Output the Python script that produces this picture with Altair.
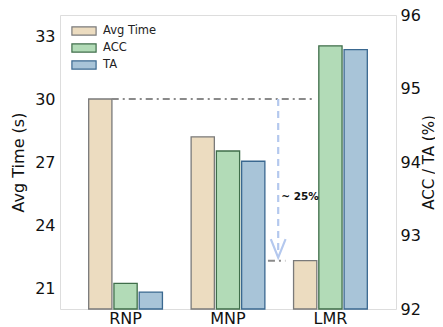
import altair as alt
import pandas as pd

methods = ["RNP", "MNP", "LMR"]
series = ["Avg Time", "ACC", "TA"]
avg_time = [30.0, 28.2, 22.3]
acc = [92.35, 94.15, 95.58]
ta = [92.23, 94.01, 95.53]

left_ticks = [21, 24, 27, 30, 33]
right_ticks = [92, 93, 94, 95, 96]

fills = ["#ecdcc0", "#b2dbb7", "#a8c4d8"]
strokes = ["#7a7a7a", "#3f6e4a", "#3a6890"]

rows = []
for i, m in enumerate(methods):
    rows.append({"method": m, "series": "Avg Time", "value": avg_time[i]})
    rows.append({"method": m, "series": "ACC", "value": acc[i]})
    rows.append({"method": m, "series": "TA", "value": ta[i]})
df = pd.DataFrame(rows)

FONT = "DejaVu Sans"
FS = 16

x_scale = alt.Scale(paddingInner=0.28, paddingOuter=0.28)
x_axis = alt.Axis(labelFontSize=FS, labelFont=FONT, labelColor="#111",
                  ticks=False, domain=False, labelPadding=1, labelAngle=0)
xo_enc = alt.XOffset("series:N", sort=series,
                     scale=alt.Scale(domain=series, paddingInner=0.08))
fill_enc = alt.Fill("series:N", sort=series,
                    scale=alt.Scale(domain=series, range=fills),
                    legend=alt.Legend(title=None, orient="none", legendX=15, legendY=7,
                                      symbolType="M-1.5,-0.5H1.5V0.5H-1.5Z",
                                      symbolSize=260, labelFontSize=11.5, labelFont=FONT,
                                      labelColor="#222", rowPadding=1, labelOffset=10,
                                      symbolStrokeWidth=1.2))
stroke_enc = alt.Stroke("series:N", sort=series,
                        scale=alt.Scale(domain=series, range=strokes), legend=None)

bars_left = alt.Chart(df).transform_filter(alt.datum.series == "Avg Time").mark_bar(
    strokeWidth=1.3).encode(
    x=alt.X("method:N", sort=methods, title=None, scale=x_scale, axis=x_axis),
    xOffset=xo_enc,
    y=alt.Y("value:Q", title="Avg Time (s)",
            scale=alt.Scale(domain=[20, 34], nice=False, zero=False),
            axis=alt.Axis(values=left_ticks, ticks=False, domain=False, grid=False,
                          labelFontSize=FS, labelFont=FONT, labelColor="#111",
                          labelPadding=5, titleFontSize=FS, titleFont=FONT,
                          titleFontWeight="normal", titleColor="#111", titlePadding=8)),
    y2=alt.datum(20),
    fill=fill_enc, stroke=stroke_enc,
)

bars_right = alt.Chart(df).transform_filter(alt.datum.series != "Avg Time").mark_bar(
    strokeWidth=1.3).encode(
    x=alt.X("method:N", sort=methods, title=None, scale=x_scale, axis=None),
    xOffset=xo_enc,
    y=alt.Y("value:Q", title="ACC / TA (%)",
            scale=alt.Scale(domain=[92, 96], nice=False, zero=False),
            axis=alt.Axis(orient="right", values=right_ticks, ticks=False, domain=False,
                          grid=False, labelFontSize=FS, labelFont=FONT, labelColor="#111",
                          labelPadding=4, titleFontSize=15, titleFont=FONT,
                          titleFontWeight="normal", titleColor="#111", titlePadding=1,
                          titleAngle=270, titleBaseline="top")),
    y2=alt.datum(92),
    fill=fill_enc, stroke=stroke_enc,
)

# annotation (x in category units: RNP=0, MNP=1, LMR=2)
xq = alt.Scale(domain=[-0.64, 2.64], nice=False, zero=False)
yq = alt.Scale(domain=[20, 34], nice=False, zero=False)

hline = pd.DataFrame({"x": [-0.135], "x2": [1.85], "y": [avg_time[0]]})
vline = pd.DataFrame({"x": [1.49], "y": [avg_time[0]], "y2": [avg_time[2] + 0.3]})
sline = pd.DataFrame({"x": [1.39], "x2": [1.56], "y": [avg_time[2]]})
arrow = pd.DataFrame({"x": [1.49], "y": [avg_time[2] + 0.15]})
label = pd.DataFrame({"x": [1.52], "y": [25.35], "t": ["~ 25%"]})

h = alt.Chart(hline).mark_rule(color="#8a8a8a", strokeWidth=2, strokeDash=[7, 4, 2, 4]).encode(
    x=alt.X("x:Q", scale=xq, axis=None), x2="x2:Q",
    y=alt.Y("y:Q", scale=yq, axis=None))
v = alt.Chart(vline).mark_rule(color="#b4c8ee", strokeWidth=2.2, strokeDash=[7, 5]).encode(
    x=alt.X("x:Q", scale=xq, axis=None),
    y=alt.Y("y:Q", scale=yq, axis=None), y2="y2:Q")
s = alt.Chart(sline).mark_rule(color="#8a8a8a", strokeWidth=2, strokeDash=[7, 4, 2, 4]).encode(
    x=alt.X("x:Q", scale=xq, axis=None), x2="x2:Q",
    y=alt.Y("y:Q", scale=yq, axis=None))
a = alt.Chart(arrow).mark_point(shape="M-0.8,-2L0,0L0.8,-2", filled=False, size=340,
                                color="#b4c8ee", strokeWidth=2.2, opacity=1).encode(
    x=alt.X("x:Q", scale=xq, axis=None),
    y=alt.Y("y:Q", scale=yq, axis=None))
t = alt.Chart(label).mark_text(align="left", baseline="middle", fontSize=10.5,
                               fontWeight="bold", font=FONT, color="#111").encode(
    x=alt.X("x:Q", scale=xq, axis=None),
    y=alt.Y("y:Q", scale=yq, axis=None), text="t:N")

annot = alt.layer(h, v, s, a, t)

chart = alt.layer(bars_left, bars_right, annot).resolve_scale(
    y="independent", x="independent"
).properties(
    width=336, height=294,
    autosize=alt.AutoSizeParams(type="none"),
    padding={"left": 52, "top": 7, "right": 39, "bottom": 18},
).configure_view(stroke="#555", strokeWidth=1.5).configure(background="white")

chart.save("out.html", embed_options={"renderer": "svg", "actions": False})
